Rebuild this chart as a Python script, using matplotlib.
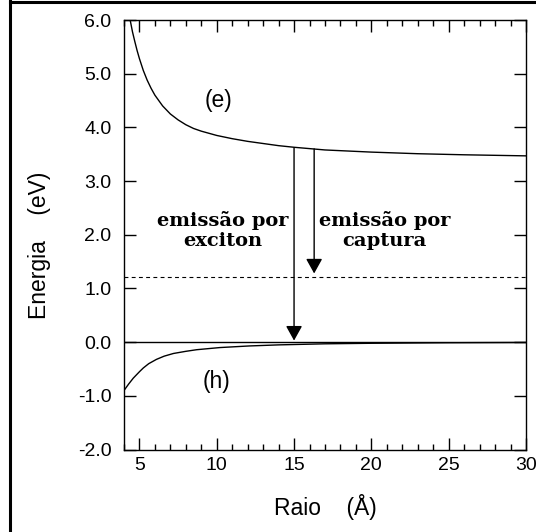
import matplotlib
matplotlib.use("Agg")
import matplotlib.pyplot as plt
from matplotlib.lines import Line2D
from matplotlib.ticker import MultipleLocator, FormatStrFormatter

plt.rcParams['font.family'] = ['Liberation Sans', 'DejaVu Sans']

# electron level (e)
e_raio = [4.4, 4.55, 4.7, 4.85, 5.0, 5.25, 5.5, 5.75, 6.0, 6.5, 7.0, 7.5, 8.0, 8.5,
          9.0, 10.0, 11.0, 12.0, 13.0, 14.0, 15.0, 17.0, 20.0, 23.0, 26.0, 30.0]
e_energia = [6.0, 5.78, 5.6, 5.43, 5.28, 5.06, 4.88, 4.73, 4.6, 4.40, 4.25, 4.14, 4.05, 3.98,
             3.93, 3.85, 3.79, 3.74, 3.70, 3.66, 3.63, 3.58, 3.54, 3.51, 3.49, 3.47]

# hole level (h)
h_raio = [4.0, 4.3, 4.6, 5.0, 5.25, 5.6, 6.1, 6.6, 7.2, 8.0, 8.7, 10.2, 12.1, 14.0,
          17.0, 20.0, 25.0, 30.0]
h_energia = [-0.9, -0.78, -0.67, -0.55, -0.48, -0.40, -0.32, -0.26, -0.21, -0.17, -0.14,
             -0.10, -0.07, -0.05, -0.03, -0.02, -0.01, -0.005]

nivel_armadilha = 1.22
arrow_x = [15.0, 16.3]
arrow_top = [3.62, 3.60]
arrow_tip = [0.03, 1.28]

labels_text = ['emissão por\nexciton', 'emissão por\ncaptura']
labels_x = [10.4, 20.85]
labels_y = [2.08, 2.08]

fig = plt.figure(figsize=(5.36, 5.32), dpi=100)
ax = fig.add_axes([0.2313, 0.1549, 0.75, 0.8075])

ax.plot(e_raio, e_energia, color='k', lw=1.0)
ax.plot(h_raio, h_energia, color='k', lw=1.0)
ax.axhline(0.0, color='k', lw=1.0)
ax.axhline(nivel_armadilha, color='k', lw=0.8, linestyle=(0, (3.5, 3)))

for x, y0, y1 in zip(arrow_x, arrow_top, arrow_tip):
    ax.annotate('', xy=(x, y1), xytext=(x, y0),
                arrowprops=dict(arrowstyle='-|>,head_length=0.9,head_width=0.5',
                                mutation_scale=10, lw=1.0, color='k',
                                shrinkA=0, shrinkB=0))

for t, x, y in zip(labels_text, labels_x, labels_y):
    ax.text(x, y, t, ha='center', va='center', fontsize=14, fontweight='bold',
            family='DejaVu Serif', linespacing=1.2)

ax.text(10.1, 4.5, '(e)', ha='center', va='center', fontsize=16.5)
ax.text(10.0, -0.74, '(h)', ha='center', va='center', fontsize=16.5)

ax.set_xlim(4, 30)
ax.set_ylim(-2, 6)
ax.xaxis.set_major_locator(MultipleLocator(5))
ax.xaxis.set_minor_locator(MultipleLocator(1))
ax.yaxis.set_major_locator(MultipleLocator(1))
ax.yaxis.set_major_formatter(FormatStrFormatter('%.1f'))
ax.tick_params(which='both', direction='in', top=True, right=True, width=1.0, labelsize=14)
ax.tick_params(which='major', length=8.5)
ax.tick_params(which='minor', length=4.5)
ax.tick_params(axis='y', pad=9)
ax.tick_params(axis='x', pad=5)
for s in ax.spines.values():
    s.set_linewidth(1.0)

fig.text(40 / 536, 1 - 245 / 532, 'Energia    (eV)', rotation=90, ha='center', va='center',
         fontsize=16.5)
fig.text(325 / 536, 1 - 506.7 / 532, 'Raio    (Å)', ha='center', va='center', fontsize=16.5)

# outer frame (top and left edges only)
fig.add_artist(Line2D([9.5 / 536, 1.0], [1 - 1.5 / 532, 1 - 1.5 / 532],
                      transform=fig.transFigure, color='k', lw=2.2))
fig.add_artist(Line2D([10 / 536, 10 / 536], [0.0, 1.0],
                      transform=fig.transFigure, color='k', lw=2.2))

fig.savefig('out.png', dpi=100)
